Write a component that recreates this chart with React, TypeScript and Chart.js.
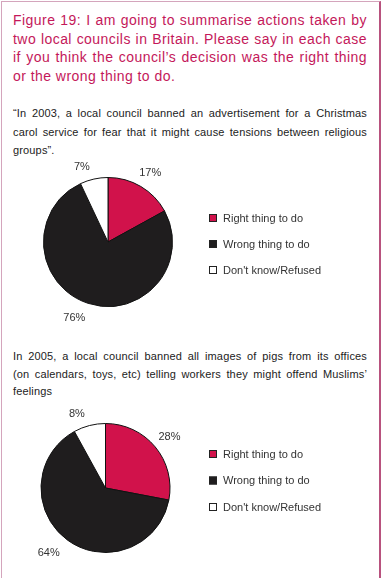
import React, { useEffect, useRef } from "react";
import { Chart, registerables } from "chart.js";

Chart.register(...registerables);

// ---------- data ----------
const titleLines = [
  "Figure 19: I am going to summarise actions taken by",
  "two local councils in Britain. Please say in each case",
  "if you think the council\u2019s decision was the right thing",
  "or the wrong thing to do.",
];
const question2003 = [
  "\u201CIn 2003, a local council banned an advertisement for a Christmas",
  "carol service for fear that it might cause tensions between religious",
  "groups\u201D.",
];
const question2005 = [
  "In 2005, a local council banned all images of pigs from its offices",
  "(on calendars, toys, etc) telling workers they might offend Muslims\u2019",
  "feelings",
];
const categories = ["Right thing to do", "Wrong thing to do", "Don't know/Refused"];
const values2003 = [17, 76, 7];
const values2005 = [28, 64, 8];

// ---------- style ----------
const RED = "#d1124b";
const BLACK = "#1f1d1e";
const WHITE = "#ffffff";
const sliceColors = [RED, BLACK, WHITE];
const FONT = "'Liberation Sans', Arial, Helvetica, sans-serif";

const pieDecor = {
  id: "pieDecor",
  afterDraw(chart: any, _args: any, opts: any) {
    const ctx = chart.ctx;
    const meta = chart.getDatasetMeta(0);
    const data = chart.data.datasets[0].data;
    const colors = chart.data.datasets[0].backgroundColor;
    ctx.save();
    ctx.font = `11px ${FONT}`;
    ctx.fillStyle = "#333";
    ctx.textAlign = "center";
    ctx.textBaseline = "middle";
    meta.data.forEach((arc: any, i: number) => {
      const p = arc.getProps(["x", "y", "startAngle", "endAngle", "outerRadius"], true);
      const mid = (p.startAngle + p.endAngle) / 2;
      let lx = p.x + Math.cos(mid) * (p.outerRadius + 18.5);
      let ly = p.y + Math.sin(mid) * (p.outerRadius + 15.5);
      if (Math.cos(mid) < 0) {
        lx -= 8;
        if (Math.sin(mid) < 0) ly += 3;
      }
      ctx.fillText(`${data[i]}%`, lx, ly);
    });
    // legend
    const labels = chart.data.labels;
    ctx.textAlign = "left";
    labels.forEach((lab: string, i: number) => {
      const cy = opts.legendY + i * opts.legendGap;
      ctx.fillStyle = colors[i];
      ctx.fillRect(opts.legendX, cy - 4, 8, 8);
      ctx.strokeStyle = "#222";
      ctx.lineWidth = 1;
      ctx.strokeRect(opts.legendX + 0.5, cy - 3.5, 7, 7);
      ctx.fillStyle = "#333";
      ctx.font = `11px ${FONT}`;
      ctx.fillText(lab, opts.legendX + 14, cy + 0.5);
    });
    ctx.restore();
  },
};

function PieChart(props: {
  values: number[];
  top: number;
  height: number;
  padding: { left: number; right: number; top: number; bottom: number };
  legendY: number;
  legendGap: number;
}) {
  const ref = useRef<HTMLCanvasElement>(null);
  useEffect(() => {
    if (!ref.current) return;
    const chart = new Chart(ref.current, {
      type: "pie",
      data: {
        labels: categories,
        datasets: [
          {
            data: props.values,
            backgroundColor: sliceColors,
            borderColor: "#111",
            borderWidth: 1,
          },
        ],
      },
      options: {
        responsive: false,
        maintainAspectRatio: false,
        animation: false,
        layout: { padding: props.padding },
        plugins: {
          legend: { display: false },
          tooltip: { enabled: false },
          pieDecor: { legendX: 209, legendY: props.legendY, legendGap: props.legendGap },
        } as any,
      },
      plugins: [pieDecor],
    });
    return () => chart.destroy();
  }, []);
  return (
    <canvas
      ref={ref}
      width={382}
      height={props.height}
      style={{ position: "absolute", left: 0, top: props.top, width: 382, height: props.height }}
    />
  );
}

function Lines(props: {
  lines: string[];
  top: number;
  size: number;
  lh: number;
  color: string;
  spacing: number;
}) {
  return (
    <>
      {props.lines.map((t, i) => (
        <div
          key={i}
          style={{
            position: "absolute",
            left: 13,
            width: 354,
            top: props.top + i * props.lh,
            fontSize: props.size,
            lineHeight: `${props.lh}px`,
            height: props.lh,
            color: props.color,
            fontFamily: FONT,
            letterSpacing: props.spacing,
            textAlign: "justify",
            textAlignLast: i < props.lines.length - 1 ? "justify" : "left",
            whiteSpace: "normal",
            overflow: "visible",
          } as any}
        >
          {t}
        </div>
      ))}
    </>
  );
}

export default function App() {
  return (
    <div
      style={{
        position: "fixed",
        left: 0,
        top: 0,
        width: 382,
        height: 578,
        background: "#fff",
        overflow: "hidden",
      }}
    >
      <div
        style={{
          position: "absolute",
          left: 1,
          top: 1,
          width: 380,
          height: 620,
          boxSizing: "border-box",
          borderLeft: "1.5px solid #d4a5bc",
          borderTop: "1.5px solid #d4a5bc",
          borderRight: "2px solid #b8527e",
        }}
      />
      <Lines lines={titleLines} top={11} size={14} lh={18.6} color="#c4185a" spacing={0.45} />
      <Lines lines={question2003} top={104} size={11} lh={18.5} color="#222" spacing={0.15} />
      <PieChart
        values={values2003}
        top={148}
        height={182}
        padding={{ left: 43, right: 209, top: 29, bottom: 23 }}
        legendY={70}
        legendGap={26}
      />
      <Lines lines={question2005} top={348} size={11} lh={17.7} color="#222" spacing={0.15} />
      <PieChart
        values={values2005}
        top={396}
        height={174}
        padding={{ left: 40.5, right: 211.5, top: 27, bottom: 17 }}
        legendY={58}
        legendGap={26.5}
      />
    </div>
  );
}
